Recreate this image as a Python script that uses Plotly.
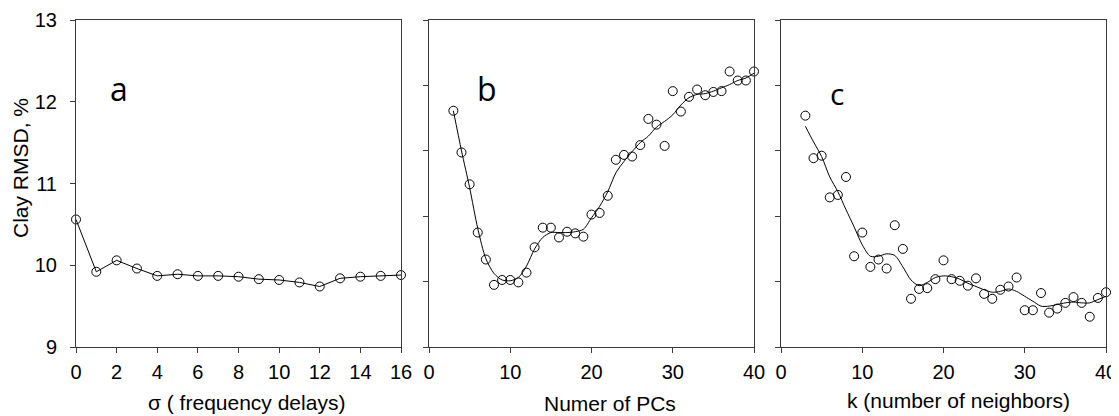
import plotly.graph_objects as go

# ---- data ----
sigma = list(range(0, 17))
rmsd_sigma = [10.56, 9.92, 10.06, 9.96, 9.87, 9.89, 9.87, 9.87, 9.86, 9.83, 9.82,
              9.79, 9.74, 9.84, 9.86, 9.87, 9.88]

pcs = list(range(3, 41))
rmsd_pcs = [11.89, 11.38, 10.99, 10.40, 10.07, 9.76, 9.82, 9.82, 9.79, 9.91,
            10.22, 10.46, 10.46, 10.34, 10.41, 10.39, 10.35, 10.62, 10.64, 10.85,
            11.29, 11.35, 11.33, 11.47, 11.79, 11.72, 11.46, 12.13, 11.88, 12.06,
            12.15, 12.08, 12.12, 12.13, 12.37, 12.26, 12.26, 12.37]
smooth_pcs = [11.89, 11.40, 10.95, 10.45, 10.08, 9.90, 9.82, 9.81, 9.85, 9.99,
              10.20, 10.34, 10.40, 10.40, 10.40, 10.41, 10.44, 10.58, 10.72, 10.90,
              11.13, 11.27, 11.39, 11.50, 11.58, 11.69, 11.76, 11.84, 11.96, 12.05,
              12.09, 12.10, 12.13, 12.17, 12.21, 12.26, 12.29, 12.35]

neigh = list(range(3, 41))
rmsd_neigh = [11.83, 11.31, 11.34, 10.83, 10.86, 11.08, 10.11, 10.40, 9.98, 10.07,
              9.96, 10.49, 10.20, 9.59, 9.71, 9.72, 9.83, 10.06, 9.83, 9.81,
              9.75, 9.84, 9.65, 9.59, 9.70, 9.74, 9.85, 9.45, 9.45, 9.66,
              9.42, 9.47, 9.54, 9.61, 9.54, 9.37, 9.60, 9.67]
smooth_neigh = [11.70, 11.51, 11.33, 11.08, 10.90, 10.68, 10.47, 10.25, 10.11, 10.11,
                10.14, 10.12, 9.98, 9.82, 9.75, 9.79, 9.85, 9.87, 9.86, 9.83,
                9.78, 9.74, 9.70, 9.67, 9.68, 9.71, 9.68, 9.62, 9.56, 9.50,
                9.50, 9.52, 9.54, 9.55, 9.54, 9.54, 9.58, 9.62]

y_ticks_a = [9, 10, 11, 12, 13]
y_ticks_bc = [9, 9.8, 10.6, 11.4, 12.2, 13]
x_ticks_a = list(range(0, 17, 2))
x_ticks_bc = [0, 10, 20, 30, 40]

panel_letters = ["a", "b", "c"]
x_titles = ["σ ( frequency delays)", "Numer of PCs", "k (number of neighbors)"]
y_title = "Clay RMSD, %"

# ---- figure geometry (page pixels; the page body has an 8px margin) ----
PAGE_W, PAGE_H, BODY = 1119, 416, 8
PL, PR, PT, PB = 76, 1106, 20, 347          # plot area on the page
W, H = PAGE_W - BODY, PAGE_H - BODY
ML, MT = PL - BODY, PT - BODY
MR, MB = PAGE_W - PR, PAGE_H - PB
PW, PH = PR - PL, PB - PT


def px(x):
    return (x - PL) / PW


def py(y):
    return (PB - y) / PH


FONT = "Liberation Sans, Arial, sans-serif"
AX = "#3a3a3a"

fig = go.Figure()

marker = dict(symbol="circle-open", size=9, color="black", line=dict(width=1, color="black"))

fig.add_trace(go.Scatter(x=sigma, y=rmsd_sigma, mode="lines+markers",
                         line=dict(color="black", width=1), marker=marker,
                         cliponaxis=False, xaxis="x", yaxis="y", showlegend=False))

fig.add_trace(go.Scatter(x=pcs, y=smooth_pcs, mode="lines",
                         line=dict(color="black", width=1, shape="spline", smoothing=0.8),
                         cliponaxis=False, xaxis="x2", yaxis="y2", showlegend=False))
fig.add_trace(go.Scatter(x=pcs, y=rmsd_pcs, mode="markers", marker=marker,
                         cliponaxis=False, xaxis="x2", yaxis="y2", showlegend=False))

fig.add_trace(go.Scatter(x=neigh, y=smooth_neigh, mode="lines",
                         line=dict(color="black", width=1, shape="spline", smoothing=0.8),
                         cliponaxis=False, xaxis="x3", yaxis="y3", showlegend=False))
fig.add_trace(go.Scatter(x=neigh, y=rmsd_neigh, mode="markers", marker=marker,
                         cliponaxis=False, xaxis="x3", yaxis="y3", showlegend=False))

common_axis = dict(showline=True, mirror=True, linecolor=AX, linewidth=1,
                   ticks="outside", ticklen=5, tickcolor=AX, tickwidth=1,
                   showgrid=False, zeroline=False, automargin=False,
                   tickfont=dict(family=FONT, size=20, color="black"))

dom_a = [px(76), px(401)]
dom_b = [px(429), px(754)]
dom_c = [px(781), px(1106)]

fig.update_layout(
    width=W, height=H,
    margin=dict(l=ML, r=MR, t=MT, b=MB, pad=0),
    paper_bgcolor="white", plot_bgcolor="white",
    xaxis=dict(domain=dom_a, range=[0, 16], tickvals=x_ticks_a, anchor="y",
               ticklabelstandoff=2, **common_axis),
    yaxis=dict(domain=[0, 1], range=[9, 13], tickvals=y_ticks_a, anchor="x",
               ticklabelstandoff=9, **common_axis),
    xaxis2=dict(domain=dom_b, range=[0, 40], tickvals=x_ticks_bc, anchor="y2",
                ticklabelstandoff=2, **common_axis),
    yaxis2=dict(domain=[0, 1], range=[9, 13], tickvals=y_ticks_bc, anchor="x2",
                showticklabels=False, **common_axis),
    xaxis3=dict(domain=dom_c, range=[0, 40], tickvals=x_ticks_bc, anchor="y3",
                ticklabelstandoff=2, **common_axis),
    yaxis3=dict(domain=[0, 1], range=[9, 13], tickvals=y_ticks_bc, anchor="x3",
                showticklabels=False, **common_axis),
)

annotations = []
letter_pos = [(119, 89, 32), (487, 88, 32), (837, 93, 30)]
for letter, (lx, ly, fs) in zip(panel_letters, letter_pos):
    annotations.append(dict(text=letter, x=px(lx), y=py(ly), xref="paper", yref="paper",
                            xanchor="center", yanchor="middle", showarrow=False,
                            font=dict(family="Open Sans, sans-serif", size=fs, color="black")))

title_pos = [(246, 402), (610, 403), (958, 400)]
for t, (tx, ty) in zip(x_titles, title_pos):
    annotations.append(dict(text=t, x=px(tx), y=py(ty), xref="paper", yref="paper",
                            xanchor="center", yanchor="middle", showarrow=False,
                            font=dict(family=FONT, size=21, color="black")))

annotations.append(dict(text=y_title, x=px(20), y=py(168), xref="paper", yref="paper",
                        xanchor="center", yanchor="middle", showarrow=False, textangle=-90,
                        font=dict(family=FONT, size=21, color="black")))

fig.update_layout(annotations=annotations)

fig.write_html("out.html")
